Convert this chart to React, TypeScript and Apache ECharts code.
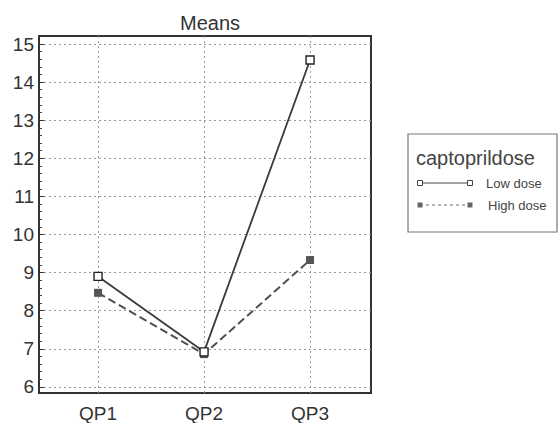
import React, { useEffect, useRef } from "react";
import * as echarts from "echarts";

const categories = ["QP1", "QP2", "QP3"];
const lowDose = [8.9, 6.92, 14.58];
const highDose = [8.47, 6.86, 9.33];
const yTicks = [6, 7, 8, 9, 10, 11, 12, 13, 14, 15];
const legendTitle = "captoprildose";
const seriesNames = ["Low dose", "High dose"];

const FONT = "Liberation Sans, Arial, sans-serif";

export default function App() {
  const ref = useRef<HTMLDivElement>(null);
  useEffect(() => {
    if (!ref.current) return;
    const chart = echarts.init(ref.current, null, { renderer: "svg" });
    const minor: number[] = [];
    for (let v = 6; v < 15; v++) {
      for (let k = 1; k < 5; k++) minor.push(+(v + k * 0.2).toFixed(2));
    }
    const xPos = categories.map((_, i) => i + 1);
    const lx = 420, rx = 470;
    chart.setOption({
      animation: false,
      backgroundColor: "#ffffff",
      title: {
        text: "Means",
        left: 205,
        textAlign: "center",
        top: 8,
        textStyle: { fontFamily: FONT, fontSize: 20, fontWeight: "normal", color: "#333" },
      },
      grid: {
        left: 39,
        top: 36,
        width: 332,
        height: 357,
        show: true,
        borderColor: "#333",
        borderWidth: 2,
        backgroundColor: "transparent",
      },
      xAxis: {
        type: "value",
        min: 0.443,
        max: 3.575,
        axisLine: { show: false },
        axisTick: { show: false, customValues: xPos },
        axisLabel: {
          customValues: xPos,
          formatter: (v: number) => categories[Math.round(v) - 1] ?? "",
          fontFamily: FONT,
          fontSize: 19,
          color: "#333",
          margin: 11,
        },
        splitLine: { show: true, lineStyle: { type: [2, 3], color: "#999", width: 1 } },
      },
      yAxis: [
        {
          type: "value",
          min: 5.84,
          max: 15.21,
          axisLine: { show: false },
          axisTick: { show: true, inside: true, length: 5, customValues: yTicks, lineStyle: { color: "#333" } },
          axisLabel: {
            customValues: yTicks,
            fontFamily: FONT,
            fontSize: 19,
            color: "#333",
            margin: 5,
          },
          splitLine: { show: true, lineStyle: { type: [2, 3], color: "#999", width: 1 } },
        },
        {
          type: "value",
          min: 5.84,
          max: 15.21,
          position: "left",
          axisLine: { show: false },
          axisTick: { show: true, inside: true, length: 3, customValues: minor, lineStyle: { color: "#444" } },
          axisLabel: { show: false },
          splitLine: { show: false },
        },
      ],
      series: [
        {
          name: seriesNames[0],
          type: "line",
          data: xPos.map((x, i) => [x, lowDose[i]]),
          symbol: "rect",
          symbolSize: 8,
          z: 3,
          lineStyle: { color: "#3a3a3a", width: 1.8, type: "solid" },
          itemStyle: { color: "#fff", borderColor: "#222", borderWidth: 1.4 },
        },
        {
          name: seriesNames[1],
          type: "line",
          data: xPos.map((x, i) => [x, highDose[i]]),
          symbol: "rect",
          symbolSize: 8,
          z: 2,
          lineStyle: { color: "#505050", width: 2, type: [8, 4] },
          itemStyle: { color: "#555", borderColor: "#555", borderWidth: 0 },
        },
      ],
      graphic: [
        { type: "rect", shape: { x: 408, y: 134, width: 149, height: 98 }, style: { fill: "#fff", stroke: "#777", lineWidth: 1.2 } },
        { type: "text", x: 416, y: 158, style: { text: legendTitle, font: `20px ${FONT}`, fill: "#444", textVerticalAlign: "middle" } },
        { type: "line", shape: { x1: lx, y1: 183, x2: rx, y2: 183 }, style: { stroke: "#444", lineWidth: 1 } },
        { type: "rect", shape: { x: lx - 2.5, y: 180.5, width: 5, height: 5 }, style: { fill: "#fff", stroke: "#444", lineWidth: 1 } },
        { type: "rect", shape: { x: rx - 2.5, y: 180.5, width: 5, height: 5 }, style: { fill: "#fff", stroke: "#444", lineWidth: 1 } },
        { type: "text", x: 486, y: 183, style: { text: seriesNames[0], font: `13px ${FONT}`, fill: "#444", textVerticalAlign: "middle" } },
        { type: "line", shape: { x1: lx, y1: 205, x2: rx, y2: 205 }, style: { stroke: "#666", lineWidth: 1, lineDash: [3, 3] } },
        { type: "rect", shape: { x: lx - 2.5, y: 202.5, width: 5, height: 5 }, style: { fill: "#666" } },
        { type: "rect", shape: { x: rx - 2.5, y: 202.5, width: 5, height: 5 }, style: { fill: "#666" } },
        { type: "text", x: 488, y: 205, style: { text: seriesNames[1], font: `13px ${FONT}`, fill: "#444", textVerticalAlign: "middle" } },
      ],
    });
    return () => chart.dispose();
  }, []);
  return <div ref={ref} style={{ position: "absolute", left: 0, top: 0, width: 558, height: 423 }} />;
}
